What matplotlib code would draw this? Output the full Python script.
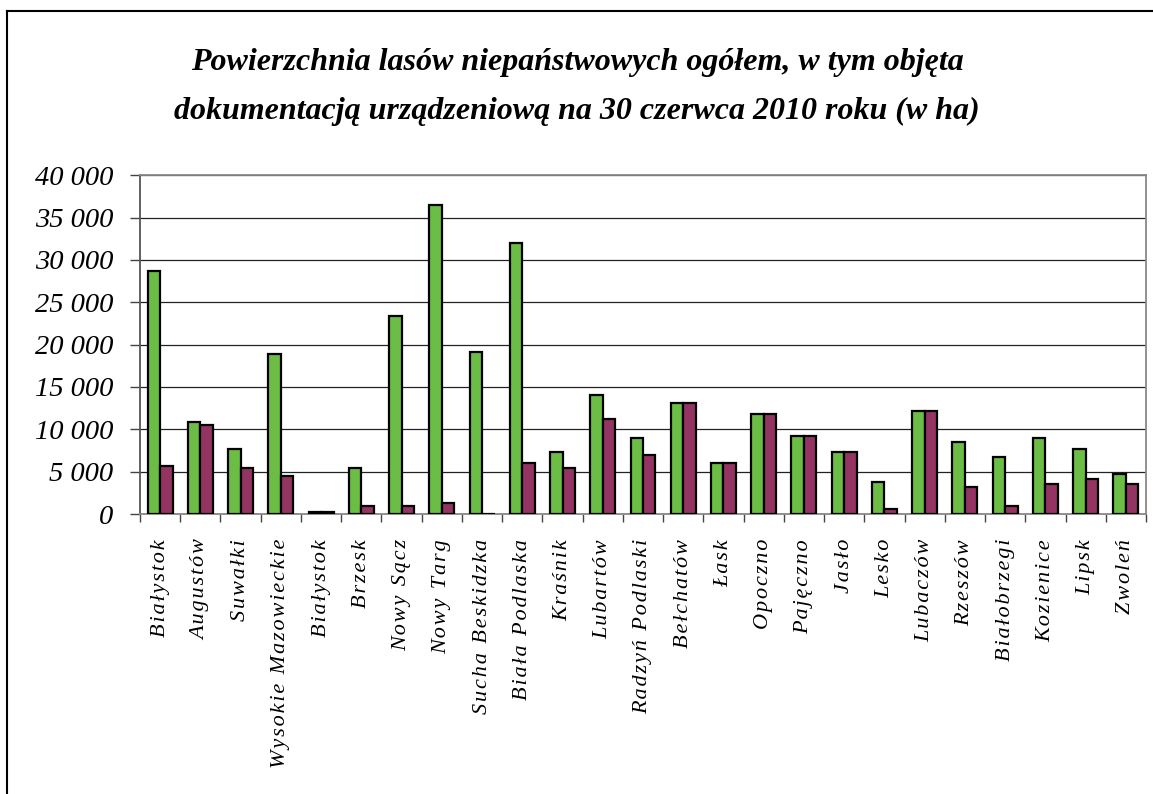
import matplotlib
matplotlib.use("Agg")
import matplotlib.pyplot as plt
import numpy as np
from matplotlib.lines import Line2D
from matplotlib.ticker import FuncFormatter

categories = ["Białystok", "Augustów", "Suwałki", "Wysokie Mazowieckie", "Białystok",
              "Brzesk", "Nowy Sącz", "Nowy Targ", "Sucha Beskidzka", "Biała Podlaska",
              "Kraśnik", "Lubartów", "Radzyń Podlaski", "Bełchatów", "Łask", "Opoczno",
              "Pajęczno", "Jasło", "Lesko", "Lubaczów", "Rzeszów", "Białobrzegi",
              "Kozienice", "Lipsk", "Zwoleń"]
total = [28740, 10830, 7640, 18860, 250, 5390, 23350, 36500, 19130, 31970,
         7320, 14020, 8940, 13070, 6020, 11810, 9210, 7320, 3780, 12170,
         8540, 6690, 8940, 7640, 4720]
documented = [5710, 10510, 5390, 4450, 200, 945, 945, 1260, 0, 6060,
              5390, 11180, 7010, 13070, 6020, 11810, 9210, 7320, 550, 12170,
              3150, 945, 3500, 4090, 3500]
yticks = [0, 5000, 10000, 15000, 20000, 25000, 30000, 35000, 40000]

title = "Powierzchnia lasów niepaństwowych ogółem, w tym objęta\ndokumentacją urządzeniową na 30 czerwca 2010 roku (w ha)"

fig = plt.figure(figsize=(11.53, 7.94), dpi=100)
W, H = 1153, 794
ax = fig.add_axes([140 / W, 1 - 514 / H, 1006 / W, (514 - 175.3) / H])

n = len(categories)
x = np.arange(n)
bw = 0.31
ax.bar(x - bw / 2, total, width=bw, color="#6BBD45", edgecolor="black", linewidth=1.6, zorder=3)
ax.bar(x + bw / 2, documented, width=bw, color="#943462", edgecolor="black", linewidth=1.6, zorder=3)

ax.set_xlim(-0.5, n - 0.5)
ax.set_ylim(0, 40000)
ax.set_yticks(yticks)
ax.yaxis.set_major_formatter(FuncFormatter(lambda v, p: f"{int(v):,}".replace(",", " ")))
ax.yaxis.grid(True, color="#222222", linewidth=0.9, zorder=0)
ax.set_axisbelow(True)

HS = "\u200a"
ax.set_xticks(x)
ax.set_xticklabels([HS.join(list(c)) for c in categories], rotation=90,
                   family=["Liberation Serif", "DejaVu Serif"], style="italic", fontsize=16)
ax.tick_params(axis="x", which="major", length=0, pad=18)
ax.set_xticks(np.arange(-0.5, n, 1.0), minor=True)
ax.tick_params(axis="x", which="minor", length=6, width=1, color="#444444", direction="out")
ax.tick_params(axis="y", length=7, width=1, color="#444444", direction="out", pad=12)
for lab in ax.get_yticklabels():
    lab.set_family("Liberation Serif")
    lab.set_style("italic")
    lab.set_fontsize(20.5)

for s in ["top", "right", "left", "bottom"]:
    ax.spines[s].set_color("#888888")
    ax.spines[s].set_linewidth(1.3)
ax.spines["left"].set_color("#555555")

fig.text(577 / W, 1 - 87 / H, title, ha="center", va="center", family="Liberation Serif",
         style="italic", weight="bold", fontsize=23, linespacing=1.9)

fig.add_artist(Line2D([7 / W, 7 / W], [0, 1 - 10.5 / H], transform=fig.transFigure, color="black", lw=1.5))
fig.add_artist(Line2D([7 / W, 1], [1 - 10.5 / H, 1 - 10.5 / H], transform=fig.transFigure, color="black", lw=1.5))

fig.savefig("out.png", dpi=100, facecolor="white")
